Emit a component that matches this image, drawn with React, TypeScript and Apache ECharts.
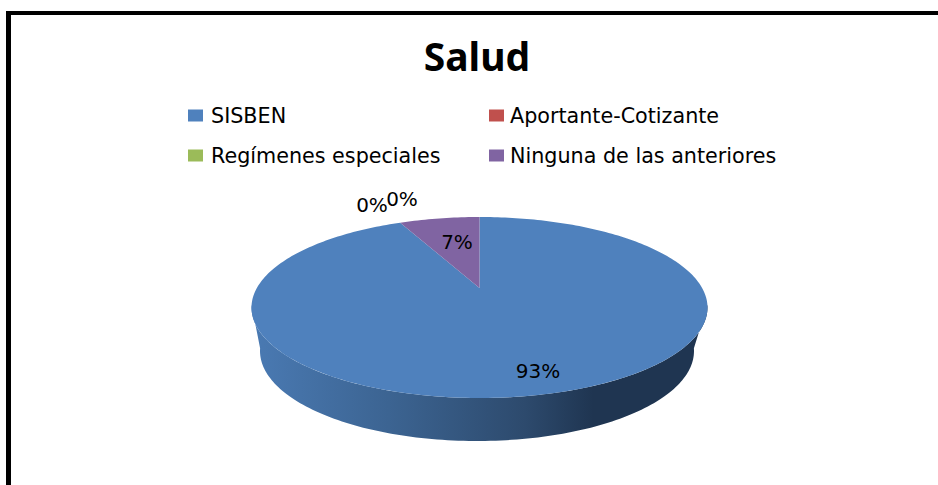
import React, { useEffect, useRef } from "react";
import * as echarts from "echarts";

const titleText = "Salud";
const categories = ["SISBEN", "Aportante-Cotizante", "Regímenes especiales", "Ninguna de las anteriores"];
const values = [93, 0, 0, 7];
const colors = ["#4f81bd", "#c0504d", "#9bbb59", "#8064a2"];
const labelAnchors = [[538, 371], [372, 205], [402, 199], [457, 242]];

const TITLE_FONT = "'Noto Sans', sans-serif";
const FONT = "'DejaVu Sans', sans-serif";
const CX = 479.5, CY = 307.5, RX = 228, RY = 90.5;
const BCX = 477, BCY = 351, BRX = 217, BRY = 90;
// The disc is drawn in perspective: its centre sits above the middle of the ellipse.
const APEX_LIFT = 19.5;
const total = values.reduce((a, b) => a + b, 0);

function pt(cx: number, cy: number, rx: number, ry: number, a: number) {
  const C = APEX_LIFT / RY;
  const u = Math.sin(a);
  const v = Math.cos(a);
  const d = 1 + C * v;
  const widest = Math.sqrt(1 - C * C) / (1 - C * C);
  return [cx + (rx / widest) * (u / d), cy - (ry * v + APEX_LIFT * (ry / RY)) / d];
}
function arc(cx: number, cy: number, rx: number, ry: number, a0: number, a1: number) {
  const n = Math.max(2, Math.ceil(Math.abs(a1 - a0) / 0.02));
  const out: number[][] = [];
  for (let i = 0; i <= n; i++) out.push(pt(cx, cy, rx, ry, a0 + ((a1 - a0) * i) / n));
  return out;
}

function makeRender(index: number) {
  return (_params: any, api: any) => {
    const before = values.slice(0, index).reduce((a, b) => a + b, 0);
    const value = api.value(0);
    const a0 = (before / total) * Math.PI * 2;
    const a1 = ((before + value) / total) * Math.PI * 2;
    const children: any[] = [];
    if (value > 0) {
      const w0 = Math.max(a0, Math.PI * 0.56);
      const w1 = Math.min(a1, Math.PI * 1.44);
      if (w1 > w0) {
        children.push({
          type: "polygon",
          shape: {
            points: [
              ...arc(CX, CY, RX, RY, w0, w1),
              ...arc(BCX, BCY, BRX, BRY, w1, w0),
            ],
          },
          style: {
            fill: new echarts.graphic.LinearGradient(0, 0, 1, 0, [
              { offset: 0, color: "#4a7ab3" },
              { offset: 0.3, color: "#3c6492" },
              { offset: 0.6, color: "#2d4a6d" },
              { offset: 0.75, color: "#1f3551" },
              { offset: 1, color: "#1f3551" },
            ]),
          },
        });
      }
      children.push({
        type: "polygon",
        shape: { points: [[CX, CY - APEX_LIFT], ...arc(CX, CY, RX, RY, a0, a1)] },
        style: { fill: colors[index] },
      });
    }
    const [lx, ly] = labelAnchors[index];
    children.push({
      type: "text",
      z2: 10,
      style: {
        x: lx,
        y: ly,
        text: `${Math.round((value / total) * 100)}%`,
        fill: "#000",
        font: `20px ${FONT}`,
        align: "center",
        verticalAlign: "middle",
      },
    });
    return { type: "group", children };
  };
}

export default function App() {
  const ref = useRef<HTMLDivElement>(null);
  useEffect(() => {
    const chart = echarts.init(ref.current!, null, { renderer: "svg" });
    const legendBase = {
      orient: "vertical",
      top: 100,
      itemWidth: 15,
      itemHeight: 12,
      itemGap: 19,
      selectedMode: false,
    };
    const legendText = (gap: number) => ({
      fontFamily: FONT,
      fontSize: 20.7,
      color: "#000",
      padding: [0, 0, 0, gap],
    });
    chart.setOption({
      animation: false,
      backgroundColor: "#ffffff",
      title: {
        text: titleText,
        left: 472,
        textAlign: "center",
        top: 31,
        textStyle: { fontFamily: TITLE_FONT, fontSize: 39, fontWeight: "bold", color: "#000" },
      },
      legend: [
        { ...legendBase, left: 183, textStyle: legendText(3), data: [categories[0], categories[2]].map((name) => ({ name, icon: "rect" })) },
        { ...legendBase, left: 484, textStyle: legendText(1), data: [categories[1], categories[3]].map((name) => ({ name, icon: "rect" })) },
      ],
      graphic: [
        { type: "rect", shape: { x: 6, y: 11, width: 932, height: 4 }, style: { fill: "#000" } },
        { type: "rect", shape: { x: 6, y: 11, width: 5, height: 474 }, style: { fill: "#000" } },
      ],
      series: categories.map((name, i) => ({
        type: "custom",
        name,
        coordinateSystem: "none",
        color: colors[i],
        itemStyle: { color: colors[i] },
        renderItem: makeRender(i),
        data: [[values[i]]],
        silent: true,
      })),
    });
    return () => chart.dispose();
  }, []);
  return <div ref={ref} style={{ position: "fixed", left: 0, top: 0, width: 938, height: 485 }} />;
}
